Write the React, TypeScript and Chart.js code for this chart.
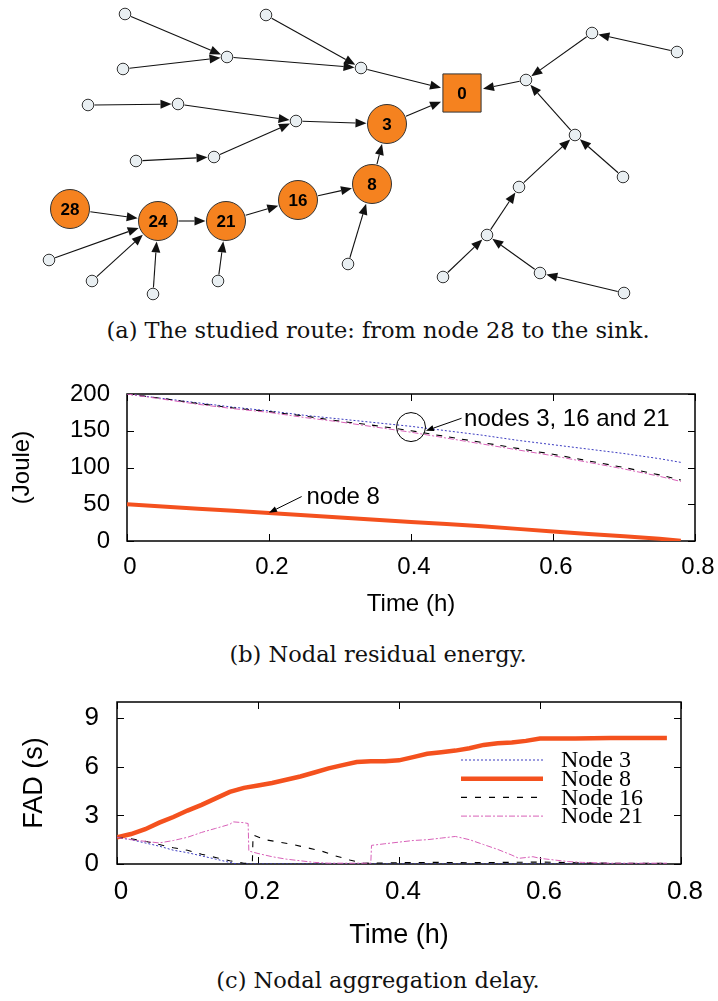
import React, { useEffect, useRef } from 'react';
import { Chart, registerables } from 'chart.js';
Chart.register(...registerables);

// ---------- (a) network graph ----------
const nodeLabels = ['0', '3', '8', '16', '21', '24', '28', '', '', '', '', '', '', '', '', '', '', '', '', '', '', '', '', '', '', '', '', '', '', '', '', ''];
const nodeKinds = ['sink', 'route', 'route', 'route', 'route', 'route', 'route',
  'leaf', 'leaf', 'leaf', 'leaf', 'leaf', 'leaf', 'leaf', 'leaf', 'leaf', 'leaf', 'leaf', 'leaf', 'leaf', 'leaf', 'leaf',
  'leaf', 'leaf', 'leaf', 'leaf', 'leaf', 'leaf', 'leaf', 'leaf', 'leaf', 'leaf'];
const nodeX = [462, 387, 372, 298, 226, 158, 70, 125, 227, 123, 266, 361, 88, 178, 296, 136, 214, 49, 92, 153, 218, 348, 592, 677, 526, 575, 623, 519, 487, 443, 540, 624];
const nodeY = [93, 124, 184, 200, 221, 221, 209, 14, 57, 69, 15, 68, 105, 104, 121, 161, 157, 260, 281, 294, 281, 264, 33, 52, 80, 135, 177, 187, 235, 277, 273, 293];
const edgeFrom = [7, 9, 8, 10, 11, 12, 13, 15, 16, 14, 1, 2, 3, 4, 5, 6, 17, 18, 19, 20, 21, 22, 23, 24, 25, 26, 27, 28, 29, 30, 31];
const edgeTo = [8, 8, 11, 11, 0, 13, 14, 16, 14, 1, 0, 1, 2, 3, 4, 5, 5, 5, 5, 4, 2, 24, 22, 0, 24, 25, 25, 27, 28, 28, 30];

// ---------- (b) residual energy ----------
const timeB = [0, 0.05, 0.1, 0.15, 0.2, 0.25, 0.3, 0.35, 0.4, 0.45, 0.5, 0.55, 0.6, 0.65, 0.7, 0.75, 0.78];
const energyNode3 = [200, 194, 188, 182, 177, 171, 166, 161, 156, 150, 144, 137, 131, 125, 119, 112, 107];
const energyNode8 = [50, 47, 44, 41, 38, 35, 32, 29, 26, 23, 20, 16.5, 13, 9.5, 6.5, 3, 0.5];
const energyNode16 = [200, 194, 187, 181, 176, 170, 163, 157, 150, 142, 134, 126, 118, 109, 100, 90, 83];
const energyNode21 = [200, 193, 186, 180, 175, 168, 162, 155, 148, 140, 132, 124, 116, 107, 98, 88, 81];
const xTicks = [0, 0.2, 0.4, 0.6, 0.8];
const xTickLabels = ['0', '0.2', '0.4', '0.6', '0.8'];
const yTicksB = [0, 50, 100, 150, 200];
const yTickLabelsB = ['0', '50', '100', '150', '200'];
const annoTexts = ['node 8', 'nodes 3, 16 and 21'];
const annoTextX = [0.25, 0.472];
const annoTextY = [60, 166];
const annoArrowFromX = [0.246, 0.4712];
const annoArrowFromY = [60.5, 167];
const annoArrowToX = [0.2, 0.421];
const annoArrowToY = [38.5, 150];
const annoCircleX = [0.4];
const annoCircleY = [155];

// ---------- (c) aggregation delay ----------
const fadLabels = ['Node 3', 'Node 8', 'Node 16', 'Node 21'];
const fadT3 = [0, 0.02, 0.04, 0.06, 0.08, 0.1, 0.12, 0.14, 0.16, 0.17, 0.2, 0.4, 0.6, 0.78];
const fadNode3 = [1.65, 1.5, 1.3, 1.1, 0.85, 0.7, 0.5, 0.3, 0.1, 0.0, 0.0, 0.0, 0.0, 0.0];
const fadT8 = [0, 0.02, 0.04, 0.06, 0.08, 0.1, 0.12, 0.14, 0.16, 0.18, 0.2, 0.22, 0.24, 0.26, 0.28, 0.3, 0.32, 0.34, 0.36, 0.38, 0.4, 0.42, 0.44, 0.46, 0.48, 0.5, 0.52, 0.54, 0.56, 0.58, 0.6, 0.65, 0.7, 0.75, 0.78];
const fadNode8 = [1.65, 1.85, 2.15, 2.55, 2.9, 3.3, 3.65, 4.05, 4.45, 4.7, 4.85, 5.0, 5.2, 5.4, 5.65, 5.9, 6.1, 6.3, 6.35, 6.35, 6.4, 6.6, 6.8, 6.9, 7.0, 7.15, 7.35, 7.45, 7.5, 7.6, 7.75, 7.75, 7.78, 7.78, 7.78];
const fadT16 = [0, 0.02, 0.04, 0.06, 0.08, 0.1, 0.12, 0.14, 0.16, 0.18, 0.192, 0.193, 0.21, 0.23, 0.25, 0.27, 0.29, 0.31, 0.33, 0.35, 0.4, 0.45, 0.5, 0.55, 0.6, 0.65, 0.7, 0.78];
const fadNode16 = [1.65, 1.55, 1.4, 1.2, 1.0, 0.85, 0.6, 0.4, 0.2, 0.05, 0.05, 1.8, 1.5, 1.35, 1.2, 1.0, 0.8, 0.5, 0.25, 0.05, 0.08, 0.1, 0.08, 0.1, 0.12, 0.08, 0.05, 0.05];
const fadT21 = [0, 0.02, 0.04, 0.06, 0.08, 0.1, 0.12, 0.14, 0.16, 0.165, 0.18, 0.186, 0.187, 0.2, 0.22, 0.24, 0.26, 0.28, 0.3, 0.36, 0.361, 0.38, 0.4, 0.42, 0.44, 0.46, 0.48, 0.5, 0.52, 0.54, 0.56, 0.57, 0.58, 0.59, 0.6, 0.62, 0.64, 0.66, 0.7, 0.78];
const fadNode21 = [1.65, 1.5, 1.4, 1.3, 1.45, 1.65, 1.95, 2.2, 2.45, 2.6, 2.55, 2.5, 0.8, 0.65, 0.45, 0.3, 0.2, 0.1, 0.05, 0.05, 1.15, 1.25, 1.35, 1.45, 1.5, 1.6, 1.7, 1.5, 1.2, 0.9, 0.55, 0.35, 0.4, 0.45, 0.35, 0.25, 0.15, 0.1, 0.05, 0.05];
const yTicksC = [0, 3, 6, 9];
const yTickLabelsC = ['0', '3', '6', '9'];

const SANS = '"Liberation Sans", Arial, Helvetica, sans-serif';
const SERIF = '"Liberation Serif", "Times New Roman", serif';
const ORANGE = '#f5821f';
const RED = '#f4511e';
const BLUE = '#3a3ac0';
const PINK = '#d860b8';

const pts = (xs: number[], ys: number[]) => xs.map((x, i) => ({ x, y: ys[i] }));

function makeFrame(xt: number[], yt: number[]) {
  return {
    id: 'frame',
    beforeDatasetsDraw(chart: any) {
      const { ctx, chartArea: { left, right, top, bottom }, scales } = chart;
      ctx.save();
      ctx.strokeStyle = '#000';
      ctx.lineWidth = 1.5;
      ctx.strokeRect(left, top, right - left, bottom - top);
      ctx.lineWidth = 1;
      const tl = 7;
      ctx.beginPath();
      xt.forEach((v) => {
        const px = Math.round(scales.x.getPixelForValue(v)) + 0.5;
        ctx.moveTo(px, bottom); ctx.lineTo(px, bottom - tl);
        ctx.moveTo(px, top); ctx.lineTo(px, top + tl);
      });
      yt.forEach((v) => {
        const py = Math.round(scales.y.getPixelForValue(v)) + 0.5;
        ctx.moveTo(left, py); ctx.lineTo(left + tl, py);
        ctx.moveTo(right, py); ctx.lineTo(right - tl, py);
      });
      ctx.stroke();
      ctx.restore();
    },
  };
}

function arrow(ctx: CanvasRenderingContext2D, x1: number, y1: number, x2: number, y2: number, ah: number, aw: number) {
  const dx = x2 - x1, dy = y2 - y1;
  const len = Math.hypot(dx, dy) || 1;
  const ux = dx / len, uy = dy / len;
  const bx = x2 - ux * ah, by = y2 - uy * ah;
  ctx.beginPath();
  ctx.moveTo(x1, y1);
  ctx.lineTo(bx, by);
  ctx.stroke();
  ctx.beginPath();
  ctx.moveTo(x2, y2);
  ctx.lineTo(bx - uy * aw, by + ux * aw);
  ctx.lineTo(bx + uy * aw, by - ux * aw);
  ctx.closePath();
  ctx.fill();
}

function nodeExtent(i: number, ux: number, uy: number) {
  const k = nodeKinds[i];
  if (k === 'sink') {
    const hw = 20, hh = 18;
    const tx = Math.abs(ux) > 1e-6 ? hw / Math.abs(ux) : 1e9;
    const ty = Math.abs(uy) > 1e-6 ? hh / Math.abs(uy) : 1e9;
    return Math.min(tx, ty) + 1;
  }
  return k === 'route' ? 20.5 : 6.5;
}

const graphPlugin = {
  id: 'graphEdges',
  beforeDatasetsDraw(chart: any) {
    const { ctx, scales: { x, y } } = chart;
    ctx.save();
    ctx.strokeStyle = '#111';
    ctx.fillStyle = '#111';
    ctx.lineWidth = 1.1;
    edgeFrom.forEach((f, i) => {
      const t = edgeTo[i];
      const x1 = x.getPixelForValue(nodeX[f]), y1 = y.getPixelForValue(nodeY[f]);
      const x2 = x.getPixelForValue(nodeX[t]), y2 = y.getPixelForValue(nodeY[t]);
      const dx = x2 - x1, dy = y2 - y1;
      const len = Math.hypot(dx, dy);
      const ux = dx / len, uy = dy / len;
      const r1 = nodeExtent(f, ux, uy), r2 = nodeExtent(t, ux, uy);
      arrow(ctx, x1 + ux * r1, y1 + uy * r1, x2 - ux * r2, y2 - uy * r2, 11, 4.5);
    });
    ctx.restore();
  },
  afterDatasetsDraw(chart: any) {
    const { ctx, scales: { x, y } } = chart;
    ctx.save();
    ctx.fillStyle = '#000';
    ctx.font = `bold 17px ${SANS}`;
    ctx.textAlign = 'center';
    ctx.textBaseline = 'middle';
    nodeLabels.forEach((lab, i) => {
      if (!lab) return;
      ctx.fillText(lab, x.getPixelForValue(nodeX[i]), y.getPixelForValue(nodeY[i]) + 1);
    });
    ctx.restore();
  },
};

const annoPlugin = {
  id: 'anno',
  afterDatasetsDraw(chart: any) {
    const { ctx, scales: { x, y } } = chart;
    ctx.save();
    ctx.strokeStyle = '#000';
    ctx.fillStyle = '#000';
    ctx.lineWidth = 1;
    annoCircleX.forEach((cx, i) => {
      ctx.beginPath();
      ctx.arc(x.getPixelForValue(cx), y.getPixelForValue(annoCircleY[i]), 14.5, 0, Math.PI * 2);
      ctx.stroke();
    });
    annoArrowFromX.forEach((fx, i) => {
      arrow(ctx, x.getPixelForValue(fx), y.getPixelForValue(annoArrowFromY[i]),
        x.getPixelForValue(annoArrowToX[i]), y.getPixelForValue(annoArrowToY[i]), 8, 3);
    });
    ctx.font = `24px ${SANS}`;
    ctx.textAlign = 'left';
    ctx.textBaseline = 'middle';
    annoTexts.forEach((t, i) => {
      ctx.fillText(t, x.getPixelForValue(annoTextX[i]) + 2, y.getPixelForValue(annoTextY[i]));
    });
    ctx.restore();
  },
};

const legendPlugin = {
  id: 'fadLegend',
  afterDatasetsDraw(chart: any) {
    const { ctx, chartArea } = chart;
    const x0 = chartArea.left + 344, x1 = chartArea.left + 426, tx = chartArea.left + 444;
    fadLabels.forEach((lab, i) => {
      const ds = chart.data.datasets[i];
      const yy = chartArea.top + 58 + i * 18.7;
      ctx.save();
      ctx.strokeStyle = ds.borderColor;
      ctx.lineWidth = ds.borderWidth;
      ctx.setLineDash(ds.borderDash || []);
      ctx.beginPath();
      ctx.moveTo(x0, yy);
      ctx.lineTo(x1, yy);
      ctx.stroke();
      ctx.restore();
      ctx.save();
      ctx.fillStyle = '#000';
      ctx.font = `24px ${SERIF}`;
      ctx.textAlign = 'left';
      ctx.textBaseline = 'middle';
      ctx.fillText(lab, tx, yy + 1);
      ctx.restore();
    });
  },
};

function axisCfg(opts: {
  min: number; max: number; ticks: number[]; labels: string[]; size: number; pad: number;
  labelOffset?: number; title: string; titleSize: number; titlePad: any; fit: (s: any) => void;
}) {
  return {
    type: 'linear',
    min: opts.min,
    max: opts.max,
    afterBuildTicks: (s: any) => { s.ticks = opts.ticks.map((v) => ({ value: v })); },
    ticks: {
      callback: (_v: any, i: number) => opts.labels[i],
      font: { family: SANS, size: opts.size },
      color: '#000',
      padding: opts.pad,
      labelOffset: opts.labelOffset || 0,
      maxRotation: 0,
      minRotation: 0,
      autoSkip: false,
    },
    grid: { display: false, drawTicks: false },
    border: { display: false },
    title: { display: true, text: opts.title, color: '#000', font: { family: SANS, size: opts.titleSize }, padding: opts.titlePad },
    afterFit: opts.fit,
  };
}

export default function App() {
  const aRef = useRef<HTMLCanvasElement>(null);
  const bRef = useRef<HTMLCanvasElement>(null);
  const cRef = useRef<HTMLCanvasElement>(null);

  useEffect(() => {
    const charts: Chart[] = [];

    // (a)
    charts.push(new Chart(aRef.current!, {
      type: 'scatter',
      data: {
        datasets: [{
          data: pts(nodeX, nodeY),
          pointRadius: nodeKinds.map((k) => (k === 'sink' ? 27 : k === 'route' ? 19.5 : 5.8)),
          pointStyle: nodeKinds.map((k) => (k === 'sink' ? 'rect' : 'circle')) as any,
          backgroundColor: nodeKinds.map((k) => (k === 'leaf' ? '#e9eff2' : ORANGE)),
          borderColor: '#333',
          borderWidth: 1,
          pointHoverRadius: 0,
          clip: false as any,
        }],
      },
      options: {
        responsive: false,
        animation: false,
        events: [],
        layout: { padding: 0, autoPadding: false },
        plugins: { legend: { display: false }, tooltip: { enabled: false } },
        scales: {
          x: { type: 'linear', min: 0, max: 718, display: false },
          y: { type: 'linear', min: 0, max: 310, reverse: true, display: false },
        },
      } as any,
      plugins: [graphPlugin],
    }));

    // (b)
    charts.push(new Chart(bRef.current!, {
      type: 'line',
      data: {
        datasets: [
          { label: 'Node 3', data: pts(timeB, energyNode3), borderColor: BLUE, borderWidth: 1, borderDash: [2, 2], order: 4 },
          { label: 'Node 8', data: pts(timeB, energyNode8), borderColor: RED, borderWidth: 4, order: 3 },
          { label: 'Node 16', data: pts(timeB, energyNode16), borderColor: '#000', borderWidth: 1.1, borderDash: [6, 7], order: 2 },
          { label: 'Node 21', data: pts(timeB, energyNode21), borderColor: PINK, borderWidth: 1, borderDash: [6, 2, 2, 2], order: 1 },
        ].map((d) => ({ ...d, pointRadius: 0, tension: 0, fill: false })),
      },
      options: {
        responsive: false,
        animation: false,
        events: [],
        layout: { padding: { top: 24, right: 23, left: 0, bottom: 0 }, autoPadding: false },
        plugins: { legend: { display: false }, tooltip: { enabled: false } },
        scales: {
          x: axisCfg({
            min: 0, max: 0.8, ticks: xTicks, labels: xTickLabels, size: 24, pad: 12, labelOffset: 3,
            title: 'Time (h)', titleSize: 24, titlePad: { top: 0, bottom: 6 },
            fit: (s: any) => { s.height = 84; s.paddingLeft = 0; s.paddingRight = 0; },
          }),
          y: axisCfg({
            min: 0, max: 200, ticks: yTicksB, labels: yTickLabelsB, size: 24, pad: 17,
            title: '(Joule)', titleSize: 24, titlePad: { top: 8, bottom: 0 },
            fit: (s: any) => { s.width = 127; s.paddingTop = 0; s.paddingBottom = 0; },
          }),
        },
      } as any,
      plugins: [makeFrame(xTicks, yTicksB), annoPlugin],
    }));

    // (c)
    charts.push(new Chart(cRef.current!, {
      type: 'line',
      data: {
        datasets: [
          { label: fadLabels[0], data: pts(fadT3, fadNode3), borderColor: BLUE, borderWidth: 1, borderDash: [2, 2], order: 4 },
          { label: fadLabels[1], data: pts(fadT8, fadNode8), borderColor: RED, borderWidth: 4.5, order: 3 },
          { label: fadLabels[2], data: pts(fadT16, fadNode16), borderColor: '#000', borderWidth: 1.1, borderDash: [6, 8], order: 2 },
          { label: fadLabels[3], data: pts(fadT21, fadNode21), borderColor: PINK, borderWidth: 1, borderDash: [6, 2, 2, 2], order: 1 },
        ].map((d) => ({ ...d, pointRadius: 0, tension: 0, fill: false })),
      },
      options: {
        responsive: false,
        animation: false,
        events: [],
        layout: { padding: { top: 12, right: 37, left: 0, bottom: 0 }, autoPadding: false },
        plugins: { legend: { display: false }, tooltip: { enabled: false } },
        scales: {
          x: axisCfg({
            min: 0, max: 0.8, ticks: xTicks, labels: xTickLabels, size: 26, pad: 12, labelOffset: 4,
            title: 'Time (h)', titleSize: 27, titlePad: { top: 0, bottom: 8 },
            fit: (s: any) => { s.height = 96; s.paddingLeft = 0; s.paddingRight = 0; },
          }),
          y: axisCfg({
            min: 0, max: 10, ticks: yTicksC, labels: yTickLabelsC, size: 26, pad: 18,
            title: 'FAD (s)', titleSize: 27, titlePad: { top: 18, bottom: 0 },
            fit: (s: any) => { s.width = 117; s.paddingTop = 0; s.paddingBottom = 0; },
          }),
        },
      } as any,
      plugins: [makeFrame(xTicks, yTicksC), legendPlugin],
    }));

    return () => charts.forEach((c) => c.destroy());
  }, []);

  const cap = (top: number): React.CSSProperties => ({
    position: 'absolute', left: 0, top, width: 756, textAlign: 'center',
    fontFamily: '"DejaVu Serif", serif', fontSize: 22.5, lineHeight: '22px', whiteSpace: 'nowrap', color: '#111',
  });

  return (
    <div style={{ position: 'absolute', left: 0, top: 0, width: 718, height: 1001, background: '#fff', overflow: 'hidden' }}>
      <canvas ref={aRef} width={718} height={310} style={{ position: 'absolute', left: 0, top: 0 }} />
      <div style={cap(319)}>(a) The studied route: from node 28 to the sink.</div>
      <canvas ref={bRef} width={718} height={255} style={{ position: 'absolute', left: 0, top: 370 }} />
      <div style={cap(643)}>(b) Nodal residual energy.</div>
      <canvas ref={cRef} width={718} height={270} style={{ position: 'absolute', left: 0, top: 690 }} />
      <div style={cap(969)}>(c) Nodal aggregation delay.</div>
    </div>
  );
}
